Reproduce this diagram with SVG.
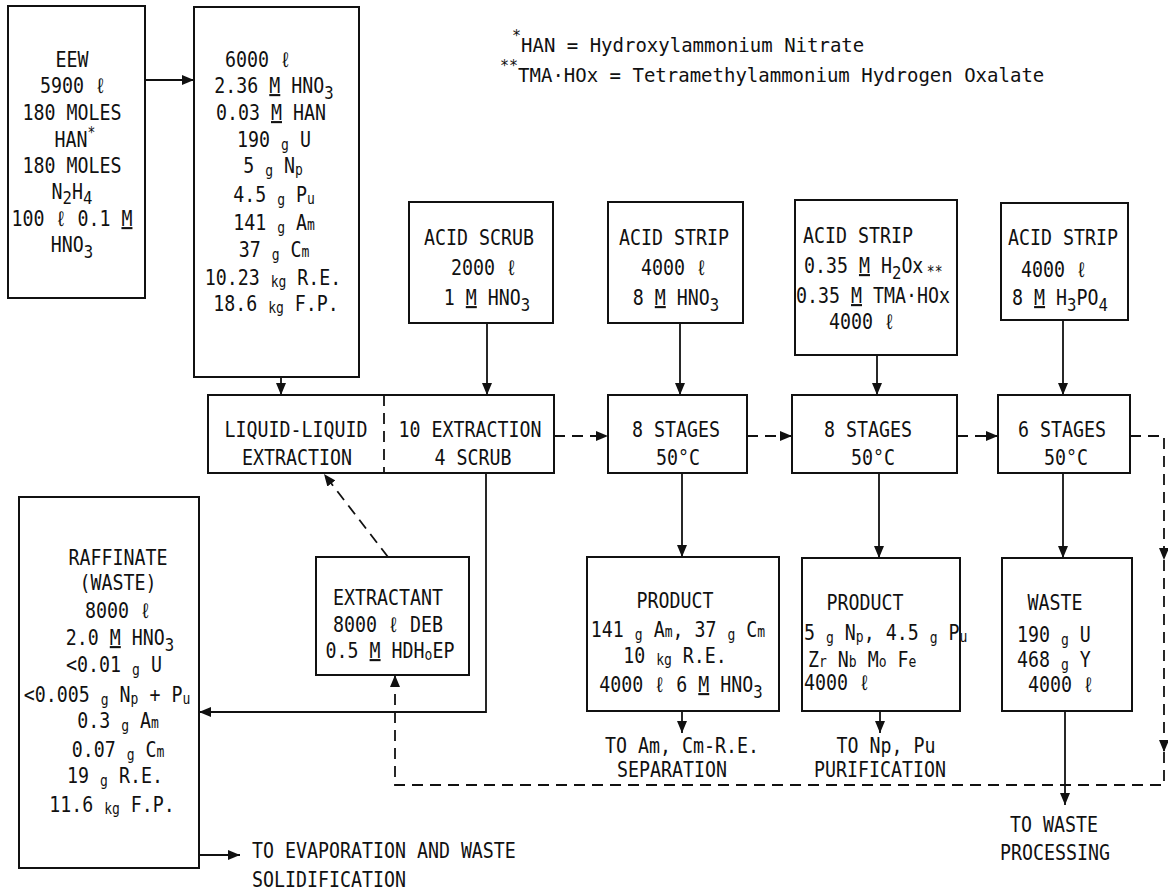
<svg xmlns="http://www.w3.org/2000/svg" width="1168" height="894" viewBox="0 0 1168 894">
<style>
.t{font-family:"DejaVu Sans Mono","Liberation Mono",monospace;font-size:21px;fill:#111}
.f{font-family:"DejaVu Sans Mono","Liberation Mono",monospace;font-size:19px;fill:#111}
.c{text-anchor:middle}
.s{font-size:15px}
.sb{font-size:18px}
.ul{text-decoration:underline}
.box{fill:#fff;stroke:#111;stroke-width:2}
.ln{fill:none;stroke:#111;stroke-width:1.8}
.dl{fill:none;stroke:#111;stroke-width:1.8;stroke-dasharray:11 7}
</style>
<defs>
<marker id="ah" viewBox="0 0 12 10" refX="12" refY="5" markerWidth="12" markerHeight="10" markerUnits="userSpaceOnUse" orient="auto"><path d="M0,0 L12,5 L0,10 z" fill="#111"/></marker>
</defs>
<rect width="1168" height="894" fill="#fff"/>

<g id="footnotes">
<text class="f" transform="translate(512,52)"><tspan class="s" dy="-11">*</tspan><tspan dy="11">HAN = Hydroxylammonium Nitrate</tspan></text>
<text class="f" transform="translate(500,82)"><tspan class="s" dy="-11">**</tspan><tspan dy="11">TMA·HOx = Tetramethylammonium Hydrogen Oxalate</tspan></text>
</g>

<g id="connectors">
<line class="ln" x1="145" y1="80" x2="194" y2="80" marker-end="url(#ah)"/>
<line class="ln" x1="281" y1="377" x2="281" y2="395" marker-end="url(#ah)"/>
<line class="ln" x1="487" y1="323" x2="487" y2="395" marker-end="url(#ah)"/>
<line class="ln" x1="680" y1="323" x2="680" y2="395" marker-end="url(#ah)"/>
<line class="ln" x1="877" y1="355" x2="877" y2="395" marker-end="url(#ah)"/>
<line class="ln" x1="1063" y1="320" x2="1063" y2="395" marker-end="url(#ah)"/>
<line class="dl" x1="554" y1="436" x2="608" y2="436" marker-end="url(#ah)"/>
<line class="dl" x1="747" y1="436" x2="792" y2="436" marker-end="url(#ah)"/>
<line class="dl" x1="957" y1="436" x2="998" y2="436" marker-end="url(#ah)"/>
<path class="dl" d="M1130,436 H1164 V560" marker-end="url(#ah)"/>
<path class="dl" d="M1164,560 V752" marker-end="url(#ah)"/>
<path class="dl" d="M1164,752 V785 H395 V675" marker-end="url(#ah)"/>
<line class="dl" x1="388" y1="557" x2="324" y2="474" marker-end="url(#ah)"/>
<line class="ln" x1="682" y1="473" x2="682" y2="557" marker-end="url(#ah)"/>
<line class="ln" x1="879" y1="473" x2="879" y2="558" marker-end="url(#ah)"/>
<line class="ln" x1="1063" y1="473" x2="1063" y2="558" marker-end="url(#ah)"/>
<line class="ln" x1="682" y1="711" x2="682" y2="733" marker-end="url(#ah)"/>
<line class="ln" x1="880" y1="711" x2="880" y2="733" marker-end="url(#ah)"/>
<line class="ln" x1="1065" y1="711" x2="1065" y2="805" marker-end="url(#ah)"/>
<path class="ln" d="M486,473 V712 H199" marker-end="url(#ah)"/>
<line class="ln" x1="199" y1="855" x2="240" y2="855" marker-end="url(#ah)"/>
</g>

<g id="eew">
<rect class="box" x="8" y="6" width="137" height="292"/>
<text class="t c" transform="translate(72,67) scale(0.87,1)">EEW</text>
<text class="t c" transform="translate(73,93) scale(0.87,1)">5900 ℓ</text>
<text class="t c" transform="translate(72,120) scale(0.87,1)">180 MOLES</text>
<text class="t c" transform="translate(75,147) scale(0.87,1)">HAN<tspan class="s" dy="-9">*</tspan></text>
<text class="t c" transform="translate(72,173) scale(0.87,1)">180 MOLES</text>
<text class="t c" transform="translate(72,199) scale(0.87,1)">N<tspan class="sb" dy="5">2</tspan><tspan dy="-5">H</tspan><tspan class="sb" dy="5">4</tspan></text>
<text class="t c" transform="translate(72,226) scale(0.87,1)">100 ℓ 0.1 <tspan class="ul">M</tspan></text>
<text class="t c" transform="translate(72,252) scale(0.87,1)">HNO<tspan class="sb" dy="6">3</tspan></text>
</g>

<g id="feed">
<rect class="box" x="194" y="7" width="165" height="370"/>
<text class="t c" transform="translate(258,67) scale(0.87,1)">6000 ℓ</text>
<text class="t c" transform="translate(274,93) scale(0.87,1)">2.36 <tspan class="ul">M</tspan> HNO<tspan class="sb" dy="6">3</tspan></text>
<text class="t c" transform="translate(271,120) scale(0.87,1)">0.03 <tspan class="ul">M</tspan> HAN</text>
<text class="t c" transform="translate(274,147) scale(0.87,1)">190 <tspan class="s" dy="3">g</tspan><tspan dy="-3"> U</tspan></text>
<text class="t c" transform="translate(273,173) scale(0.87,1)">5 <tspan class="s" dy="3">g</tspan><tspan dy="-3"> N</tspan><tspan class="s" dy="2">p</tspan></text>
<text class="t c" transform="translate(274,202) scale(0.87,1)">4.5 <tspan class="s" dy="3">g</tspan><tspan dy="-3"> P</tspan><tspan class="s" dy="2">u</tspan></text>
<text class="t c" transform="translate(274,230) scale(0.87,1)">141 <tspan class="s" dy="3">g</tspan><tspan dy="-3"> A</tspan><tspan class="s">m</tspan></text>
<text class="t c" transform="translate(274,257) scale(0.87,1)">37 <tspan class="s" dy="3">g</tspan><tspan dy="-3"> C</tspan><tspan class="s">m</tspan></text>
<text class="t c" transform="translate(273,285) scale(0.87,1)">10.23 <tspan class="s" dy="2">kg</tspan><tspan dy="-2"> R.E.</tspan></text>
<text class="t c" transform="translate(276,311) scale(0.87,1)">18.6 <tspan class="s" dy="2">kg</tspan><tspan dy="-2"> F.P.</tspan></text>
</g>

<g id="acid-scrub">
<rect class="box" x="409" y="202" width="144" height="121"/>
<text class="t c" transform="translate(479,245) scale(0.87,1)">ACID SCRUB</text>
<text class="t c" transform="translate(484,275) scale(0.87,1)">2000 ℓ</text>
<text class="t c" transform="translate(487,305) scale(0.87,1)">1 <tspan class="ul">M</tspan> HNO<tspan class="sb" dy="6">3</tspan></text>
</g>

<g id="acid-strip-1">
<rect class="box" x="608" y="202" width="135" height="121"/>
<text class="t c" transform="translate(674,245) scale(0.87,1)">ACID STRIP</text>
<text class="t c" transform="translate(674,275) scale(0.87,1)">4000 ℓ</text>
<text class="t c" transform="translate(676,305) scale(0.87,1)">8 <tspan class="ul">M</tspan> HNO<tspan class="sb" dy="6">3</tspan></text>
</g>

<g id="acid-strip-2">
<rect class="box" x="795" y="200" width="162" height="155"/>
<text class="t c" transform="translate(858,243) scale(0.87,1)">ACID STRIP</text>
<text class="t" transform="translate(804,273) scale(0.87,1)">0.35 <tspan class="ul">M</tspan> H<tspan class="sb" dy="6">2</tspan><tspan dy="-6">Ox</tspan><tspan class="s" dx="4" dy="4">**</tspan></text>
<text class="t c" transform="translate(873,303) scale(0.87,1)">0.35 <tspan class="ul">M</tspan> TMA·HOx</text>
<text class="t c" transform="translate(862,329) scale(0.87,1)">4000 ℓ</text>
</g>

<g id="acid-strip-3">
<rect class="box" x="1001" y="203" width="127" height="117"/>
<text class="t c" transform="translate(1063,245) scale(0.87,1)">ACID STRIP</text>
<text class="t c" transform="translate(1054,277) scale(0.87,1)">4000 ℓ</text>
<text class="t c" transform="translate(1060,305) scale(0.87,1)">8 <tspan class="ul">M</tspan> H<tspan class="sb" dy="6">3</tspan><tspan dy="-6">PO</tspan><tspan class="sb" dy="6">4</tspan></text>
</g>

<g id="liquid-extraction">
<rect class="box" x="208" y="395" width="346" height="78"/>
<line class="dl" x1="384" y1="395" x2="384" y2="473"/>
<text class="t c" transform="translate(296,437) scale(0.87,1)">LIQUID-LIQUID</text>
<text class="t c" transform="translate(297,465) scale(0.87,1)">EXTRACTION</text>
<text class="t c" transform="translate(470,437) scale(0.87,1)">10 EXTRACTION</text>
<text class="t c" transform="translate(473,465) scale(0.87,1)">4 SCRUB</text>
</g>

<g id="stages-1">
<rect class="box" x="608" y="395" width="139" height="78"/>
<text class="t c" transform="translate(676,437) scale(0.87,1)">8 STAGES</text>
<text class="t c" transform="translate(678,465) scale(0.87,1)">50°C</text>
</g>

<g id="stages-2">
<rect class="box" x="792" y="395" width="165" height="78"/>
<text class="t c" transform="translate(868,437) scale(0.87,1)">8 STAGES</text>
<text class="t c" transform="translate(873,465) scale(0.87,1)">50°C</text>
</g>

<g id="stages-3">
<rect class="box" x="998" y="395" width="132" height="78"/>
<text class="t c" transform="translate(1062,437) scale(0.87,1)">6 STAGES</text>
<text class="t c" transform="translate(1066,465) scale(0.87,1)">50°C</text>
</g>

<g id="raffinate">
<rect class="box" x="19" y="497" width="180" height="371"/>
<text class="t c" transform="translate(118,565) scale(0.87,1)">RAFFINATE</text>
<text class="t c" transform="translate(118,590) scale(0.87,1)">(WASTE)</text>
<text class="t c" transform="translate(118,618) scale(0.87,1)">8000 ℓ</text>
<text class="t c" transform="translate(120,645) scale(0.87,1)">2.0 <tspan class="ul">M</tspan> HNO<tspan class="sb" dy="6">3</tspan></text>
<text class="t c" transform="translate(114,672) scale(0.87,1)">&lt;0.01 <tspan class="s" dy="3">g</tspan><tspan dy="-3"> U</tspan></text>
<text class="t c" transform="translate(107,702) scale(0.87,1)">&lt;0.005 <tspan class="s" dy="3">g</tspan><tspan dy="-3"> N</tspan><tspan class="s" dy="2">p</tspan><tspan dy="-2"> + P</tspan><tspan class="s" dy="2">u</tspan></text>
<text class="t c" transform="translate(118,728) scale(0.87,1)">0.3 <tspan class="s" dy="3">g</tspan><tspan dy="-3"> A</tspan><tspan class="s">m</tspan></text>
<text class="t c" transform="translate(118,757) scale(0.87,1)">0.07 <tspan class="s" dy="3">g</tspan><tspan dy="-3"> C</tspan><tspan class="s">m</tspan></text>
<text class="t c" transform="translate(115,783) scale(0.87,1)">19 <tspan class="s" dy="3">g</tspan><tspan dy="-3"> R.E.</tspan></text>
<text class="t c" transform="translate(112,812) scale(0.87,1)">11.6 <tspan class="s" dy="2">kg</tspan><tspan dy="-2"> F.P.</tspan></text>
</g>

<g id="evaporation-label">
<text class="t" transform="translate(252,858) scale(0.87,1)">TO EVAPORATION AND WASTE</text>
<text class="t" transform="translate(252,887) scale(0.87,1)">SOLIDIFICATION</text>
</g>

<g id="extractant">
<rect class="box" x="316" y="557" width="153" height="118"/>
<text class="t c" transform="translate(388,605) scale(0.87,1)">EXTRACTANT</text>
<text class="t c" transform="translate(388,632) scale(0.87,1)">8000 ℓ DEB</text>
<text class="t c" transform="translate(390,658) scale(0.87,1)">0.5 <tspan class="ul">M</tspan> HDH<tspan class="s" dy="2">o</tspan><tspan dy="-2">EP</tspan></text>
</g>

<g id="product-1">
<rect class="box" x="587" y="557" width="192" height="154"/>
<text class="t c" transform="translate(675,608) scale(0.87,1)">PRODUCT</text>
<text class="t c" transform="translate(678,637) scale(0.87,1)">141 <tspan class="s" dy="3">g</tspan><tspan dy="-3"> A</tspan><tspan class="s">m</tspan>, 37 <tspan class="s" dy="3">g</tspan><tspan dy="-3"> C</tspan><tspan class="s">m</tspan></text>
<text class="t c" transform="translate(675,663) scale(0.87,1)">10 <tspan class="s" dy="2">kg</tspan><tspan dy="-2"> R.E.</tspan></text>
<text class="t c" transform="translate(681,692) scale(0.87,1)">4000 ℓ 6 <tspan class="ul">M</tspan> HNO<tspan class="sb" dy="6">3</tspan></text>
</g>
<g id="label-am-cm">
<text class="t c" transform="translate(682,753) scale(0.87,1)">TO Am, Cm-R.E.</text>
<text class="t c" transform="translate(672,777) scale(0.87,1)">SEPARATION</text>
</g>

<g id="product-2">
<rect class="box" x="802" y="558" width="158" height="153"/>
<text class="t c" transform="translate(865,610) scale(0.87,1)">PRODUCT</text>
<text class="t" transform="translate(804,640) scale(0.87,1)">5 <tspan class="s" dy="3">g</tspan><tspan dy="-3"> N</tspan><tspan class="s" dy="2">p</tspan><tspan dy="-2">, 4.5 </tspan><tspan class="s" dy="3">g</tspan><tspan dy="-3"> P</tspan><tspan class="s" dy="2">u</tspan></text>
<text class="t" transform="translate(808,667) scale(0.87,1)">Z<tspan class="s">r</tspan> N<tspan class="s">b</tspan> M<tspan class="s">o</tspan> F<tspan class="s">e</tspan></text>
<text class="t" transform="translate(804,690) scale(0.87,1)">4000 ℓ</text>
</g>
<g id="label-np-pu">
<text class="t c" transform="translate(886,753) scale(0.87,1)">TO Np, Pu</text>
<text class="t c" transform="translate(880,777) scale(0.87,1)">PURIFICATION</text>
</g>

<g id="waste">
<rect class="box" x="1002" y="558" width="130" height="153"/>
<text class="t c" transform="translate(1055,610) scale(0.87,1)">WASTE</text>
<text class="t" transform="translate(1017,642) scale(0.87,1)">190 <tspan class="s" dy="3">g</tspan><tspan dy="-3"> U</tspan></text>
<text class="t" transform="translate(1017,667) scale(0.87,1)">468 <tspan class="s" dy="3">g</tspan><tspan dy="-3"> Y</tspan></text>
<text class="t" transform="translate(1028,692) scale(0.87,1)">4000 ℓ</text>
</g>
<g id="label-waste-processing">
<text class="t c" transform="translate(1054,832) scale(0.87,1)">TO WASTE</text>
<text class="t c" transform="translate(1055,860) scale(0.87,1)">PROCESSING</text>
</g>
</svg>
